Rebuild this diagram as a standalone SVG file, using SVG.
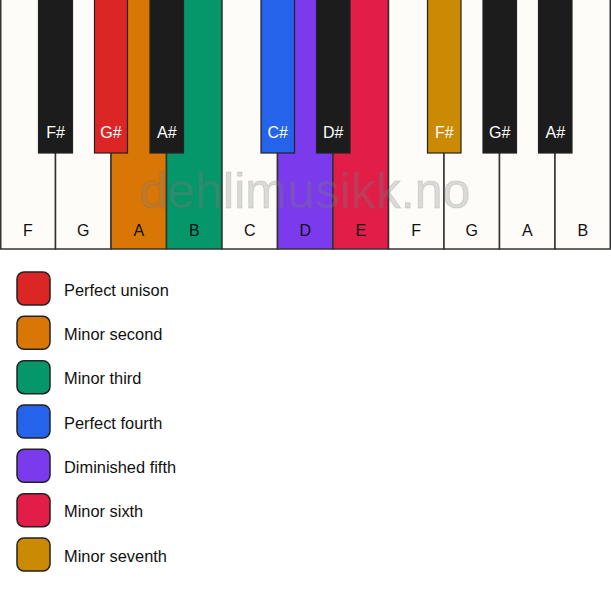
<svg xmlns="http://www.w3.org/2000/svg" width="611" height="594" viewBox="0 0 611 594">
<style>
.w{stroke:#333;stroke-width:1.5}
.b{stroke:#222;stroke-width:1.2}
.wl{font-family:"Liberation Sans",Arial,sans-serif;font-size:16px;fill:#111;text-anchor:middle}
.bl{font-family:"Liberation Sans",Arial,sans-serif;font-size:16px;fill:#fff;text-anchor:middle}
.lg{stroke:#222;stroke-width:1.5}
.lt{font-family:"Liberation Sans",Arial,sans-serif;font-size:16.4px;fill:#111}
</style>
<rect width="611" height="594" fill="#fff"/>
<g id="white-keys">
<g id="key-F1"><rect class="w" x="0.75" y="-1" width="54.75" height="250" fill="#fdfcf9"/><text class="wl" x="28" y="236">F</text></g>
<g id="key-G1"><rect class="w" x="55.5" y="-1" width="55.5" height="250" fill="#fdfcf9"/><text class="wl" x="83.25" y="236">G</text></g>
<g id="key-A1"><rect class="w" x="111" y="-1" width="55.5" height="250" fill="#d97706"/><text class="wl" x="138.75" y="236">A</text></g>
<g id="key-B1"><rect class="w" x="166.5" y="-1" width="55.5" height="250" fill="#059669"/><text class="wl" x="194.25" y="236">B</text></g>
<g id="key-C"><rect class="w" x="222" y="-1" width="55.5" height="250" fill="#fdfcf9"/><text class="wl" x="249.75" y="236">C</text></g>
<g id="key-D"><rect class="w" x="277.5" y="-1" width="55.5" height="250" fill="#7c3aed"/><text class="wl" x="305.25" y="236">D</text></g>
<g id="key-E"><rect class="w" x="333" y="-1" width="55.5" height="250" fill="#e11d48"/><text class="wl" x="360.75" y="236">E</text></g>
<g id="key-F2"><rect class="w" x="388.5" y="-1" width="55.5" height="250" fill="#fdfcf9"/><text class="wl" x="416.25" y="236">F</text></g>
<g id="key-G2"><rect class="w" x="444" y="-1" width="55.5" height="250" fill="#fdfcf9"/><text class="wl" x="471.75" y="236">G</text></g>
<g id="key-A2"><rect class="w" x="499.5" y="-1" width="55.5" height="250" fill="#fdfcf9"/><text class="wl" x="527.25" y="236">A</text></g>
<g id="key-B2"><rect class="w" x="555" y="-1" width="55.25" height="250" fill="#fdfcf9"/><text class="wl" x="582.75" y="236">B</text></g>
</g>
<g id="black-keys">
<g id="key-Fs1"><rect class="b" x="38.5" y="-1" width="34" height="154" fill="#1c1c1c"/><text class="bl" x="55.5" y="138">F#</text></g>
<g id="key-Gs1"><rect class="b" x="94.5" y="-1" width="33" height="154" fill="#dc2626"/><text class="bl" x="111" y="138">G#</text></g>
<g id="key-As1"><rect class="b" x="150" y="-1" width="33.5" height="154" fill="#1c1c1c"/><text class="bl" x="166.75" y="138">A#</text></g>
<g id="key-Cs"><rect class="b" x="261" y="-1" width="33.5" height="154" fill="#2563eb"/><text class="bl" x="277.75" y="138">C#</text></g>
<g id="key-Ds"><rect class="b" x="316.5" y="-1" width="33.5" height="154" fill="#1c1c1c"/><text class="bl" x="333.25" y="138">D#</text></g>
<g id="key-Fs2"><rect class="b" x="427.5" y="-1" width="33.5" height="154" fill="#ca8a04"/><text class="bl" x="444.25" y="138">F#</text></g>
<g id="key-Gs2"><rect class="b" x="483" y="-1" width="33.5" height="154" fill="#1c1c1c"/><text class="bl" x="499.75" y="138">G#</text></g>
<g id="key-As2"><rect class="b" x="538.5" y="-1" width="33.5" height="154" fill="#1c1c1c"/><text class="bl" x="555.25" y="138">A#</text></g>
</g>
<g id="watermark">
<text x="305" y="208" text-anchor="middle" font-family="Liberation Sans,Arial,sans-serif" font-size="50" fill="#808080" fill-opacity="0.28" stroke="#666" stroke-opacity="0.18" stroke-width="1">dehlimusikk.no</text>
</g>
<g id="legend">
<g id="leg-unison"><rect class="lg" x="17" y="272" width="33" height="33" rx="7" fill="#dc2626"/><text class="lt" x="64" y="295.5">Perfect unison</text></g>
<g id="leg-m2"><rect class="lg" x="17" y="316.3" width="33" height="33" rx="7" fill="#d97706"/><text class="lt" x="64" y="339.8">Minor second</text></g>
<g id="leg-m3"><rect class="lg" x="17" y="360.7" width="33" height="33" rx="7" fill="#059669"/><text class="lt" x="64" y="384.2">Minor third</text></g>
<g id="leg-p4"><rect class="lg" x="17" y="405" width="33" height="33" rx="7" fill="#2563eb"/><text class="lt" x="64" y="428.5">Perfect fourth</text></g>
<g id="leg-d5"><rect class="lg" x="17" y="449.3" width="33" height="33" rx="7" fill="#7c3aed"/><text class="lt" x="64" y="472.8">Diminished fifth</text></g>
<g id="leg-m6"><rect class="lg" x="17" y="493.7" width="33" height="33" rx="7" fill="#e11d48"/><text class="lt" x="64" y="517.2">Minor sixth</text></g>
<g id="leg-m7"><rect class="lg" x="17" y="538" width="33" height="33" rx="7" fill="#ca8a04"/><text class="lt" x="64" y="561.5">Minor seventh</text></g>
</g>
</svg>
